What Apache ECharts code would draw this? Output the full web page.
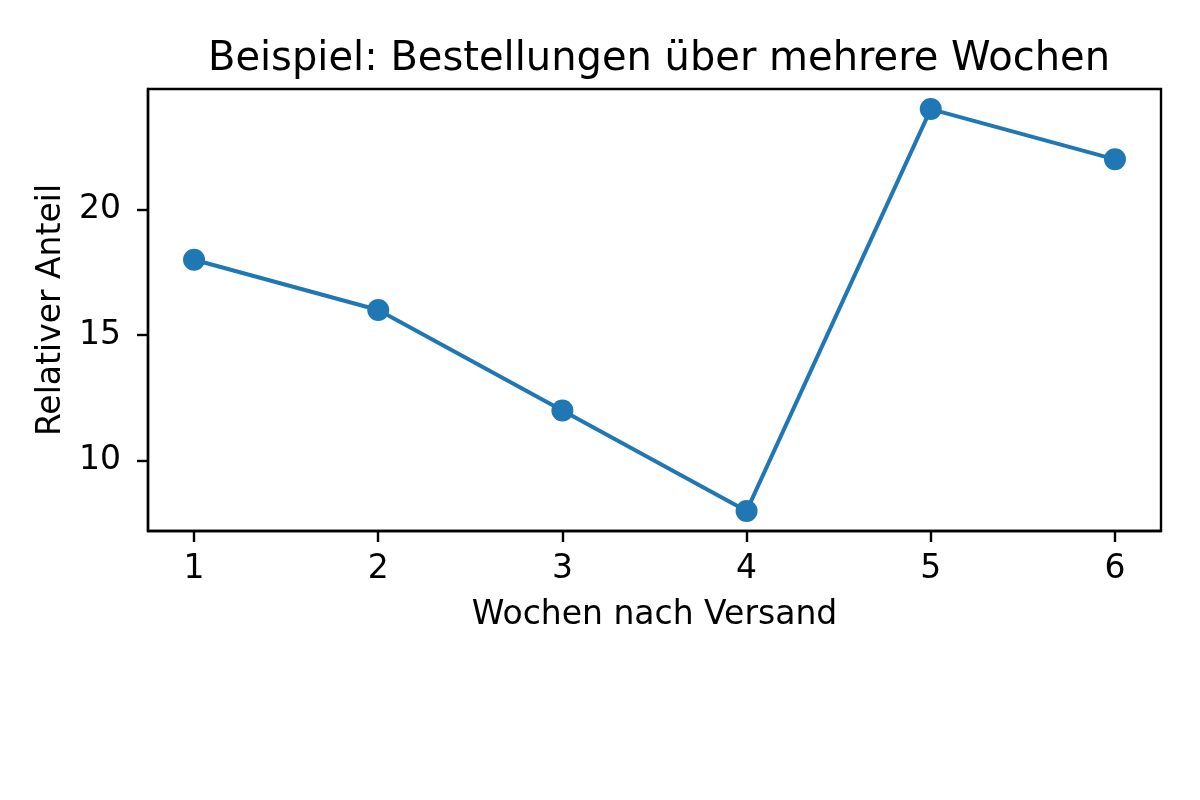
<!DOCTYPE html>
<html>
<head>
<meta charset="utf-8">
<title>Bestellungen</title>
<script src="https://cdn.jsdelivr.net/npm/echarts@6/dist/echarts.min.js"></script>
<style>
  html, body { margin: 0; padding: 0; background: #fff; }
  #chart { width: 1200px; height: 800px; }
</style>
</head>
<body>
<div id="chart"></div>
<script>
// Daten
const weeks = [1, 2, 3, 4, 5, 6];
const shares = [18, 16, 12, 8, 24, 22];
const xTicks = [1, 2, 3, 4, 5, 6];
const yTicks = [10, 15, 20];

const font = 'DejaVu Sans';

document.addEventListener('DOMContentLoaded', function () {
    const myChart = echarts.init(document.getElementById('chart'), null, { renderer: 'canvas' });

    const axisCommon = {
        axisLine: { show: true, onZero: false, lineStyle: { color: '#000', width: 2.4 } },
        axisTick: { show: true, length: 11, lineStyle: { color: '#000', width: 2.4 } },
        splitLine: { show: false },
        nameTextStyle: { fontFamily: font, fontSize: 33, color: '#000' }
    };

    const option = {
        backgroundColor: '#fff',
        animation: false,
        title: {
            text: 'Beispiel: Bestellungen über mehrere Wochen',
            left: 654, top: 35, textAlign: 'center',
            textStyle: { fontFamily: font, fontSize: 40, fontWeight: 'normal', color: '#000' }
        },
        grid: { left: 148, right: 39, top: 89, bottom: 269, show: true, borderColor: '#000', borderWidth: 2.4 },
        xAxis: Object.assign({}, axisCommon, {
            type: 'value',
            min: 0.75, max: 6.25,
            name: 'Wochen nach Versand',
            nameLocation: 'middle',
            nameGap: 68,
            axisTick: Object.assign({}, axisCommon.axisTick, { customValues: xTicks }),
            axisLabel: { customValues: xTicks, margin: 22, fontFamily: font, fontSize: 33, color: '#000' }
        }),
        yAxis: Object.assign({}, axisCommon, {
            type: 'value',
            min: 7.2, max: 24.8,
            name: 'Relativer Anteil',
            nameLocation: 'middle',
            nameGap: 80,
            nameRotate: 90,
            axisTick: Object.assign({}, axisCommon.axisTick, { customValues: yTicks }),
            axisLabel: { customValues: yTicks, margin: 27, fontFamily: font, fontSize: 33, color: '#000' }
        }),
        series: [{
            type: 'line',
            data: weeks.map((w, i) => [w, shares[i]]),
            symbol: 'circle',
            symbolSize: 22,
            lineStyle: { color: '#1f77b4', width: 4 },
            itemStyle: { color: '#1f77b4' },
            clip: false
        }]
    };

    myChart.setOption(option);
});
</script>
</body>
</html>
